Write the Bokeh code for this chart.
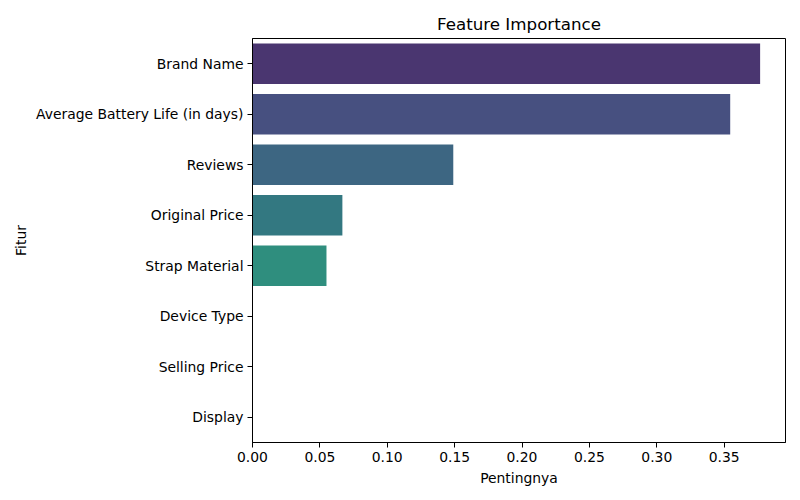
from bokeh.plotting import figure
from bokeh.models import FactorRange, Range1d, FixedTicker, NumeralTickFormatter, ColumnDataSource
from bokeh.embed import file_html
from bokeh.resources import INLINE

features = ["Brand Name", "Average Battery Life (in days)", "Reviews", "Original Price",
            "Strap Material", "Device Type", "Selling Price", "Display"]
importance = [0.3767, 0.3545, 0.1490, 0.0667, 0.0549, 0.0, 0.0, 0.0]
colors = ["#4a3670", "#475080", "#3d6682", "#337881", "#2f8e7e", "#45a778", "#77bf67", "#a9c841"]
x_ticks = [0.0, 0.05, 0.10, 0.15, 0.20, 0.25, 0.30, 0.35]

src = ColumnDataSource(dict(feature=features, imp=importance, color=colors))

FONT = "DejaVu Sans"
p = figure(
    y_range=FactorRange(factors=list(reversed(features))),
    x_range=Range1d(0, max(importance) * 1.05),
    frame_width=533, frame_height=404,
    min_border_left=252, min_border_right=15, min_border_top=38, min_border_bottom=58,
    toolbar_location=None, output_backend="svg",
    title="Feature Importance",
)
p.hbar(y="feature", left=0, right="imp", height=0.8, fill_color="color",
       line_color=None, source=src)

p.title.align = "center"
p.title.text_font = FONT
p.title.text_font_size = "16.7px"
p.title.text_font_style = "normal"
p.title.text_color = "#000000"

p.outline_line_color = "#000000"
p.outline_line_width = 1
p.xgrid.grid_line_color = None
p.ygrid.grid_line_color = None

for ax in (p.xaxis[0], p.yaxis[0]):
    ax.axis_line_color = "#000000"
    ax.major_tick_line_color = "#000000"
    ax.major_tick_out = 5
    ax.major_tick_in = 0
    ax.minor_tick_line_color = None
    ax.major_label_text_font = FONT
    ax.major_label_text_font_size = "13.9px"
    ax.major_label_text_color = "#000000"
    ax.axis_label_text_font = FONT
    ax.axis_label_text_font_size = "13.9px"
    ax.axis_label_text_font_style = "normal"
    ax.axis_label_text_color = "#000000"

p.xaxis[0].ticker = FixedTicker(ticks=x_ticks)
p.xaxis[0].formatter = NumeralTickFormatter(format="0.00")
p.xaxis[0].axis_label = "Pentingnya"
p.xaxis[0].major_label_standoff = 4
p.xaxis[0].axis_label_standoff = 5
p.yaxis[0].axis_label = "Fitur"
p.yaxis[0].major_label_standoff = 4
p.yaxis[0].axis_label_standoff = 4

open("out.html", "w").write(file_html(p, INLINE))
